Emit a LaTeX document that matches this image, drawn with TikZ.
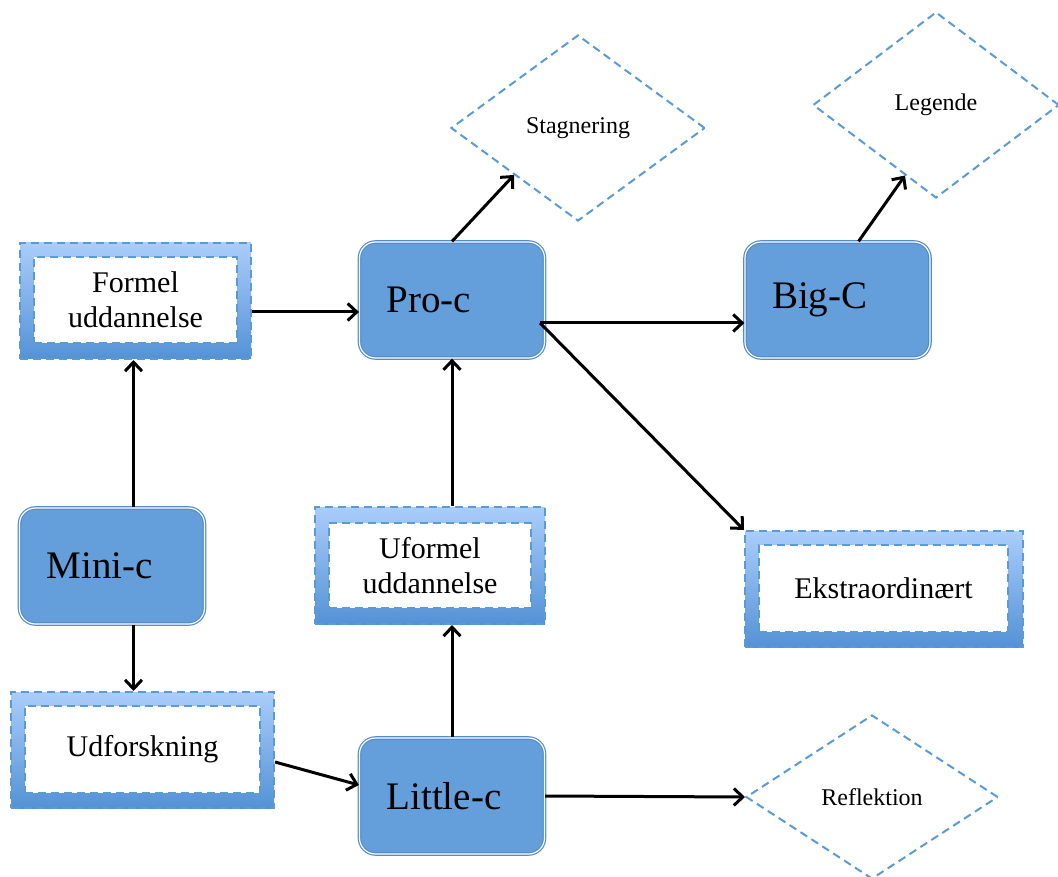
\documentclass[tikz,border=0pt]{standalone}
\usepackage{fontspec}
\setmainfont{Liberation Serif}
\usetikzlibrary{shapes.geometric,arrows.meta,calc}
\definecolor{dashblue}{RGB}{91,155,213}
\definecolor{boxblue}{RGB}{101,159,219}
\definecolor{gradtop}{RGB}{170,205,250}
\definecolor{gradbot}{RGB}{84,146,214}
\definecolor{edgeblue}{RGB}{84,141,205}
\newcommand{\fbig}{\fontsize{39}{42}\selectfont}
\newcommand{\fmed}{\fontsize{30}{35}\selectfont}
\newcommand{\fsml}{\fontsize{24}{28}\selectfont}
\begin{document}
\begin{tikzpicture}[x=1pt,y=-1pt,
 dashline/.style={draw=dashblue, line width=2pt, dash pattern=on 8pt off 5pt},
 outerbox/.style={dashline, top color=gradtop, bottom color=gradbot, inner sep=0pt},
 innerbox/.style={dashline, fill=white, inner sep=0pt, align=center, font=\fmed},
 bigbox/.style={fill=boxblue, draw=edgeblue, double=white, double distance=1.2pt, line width=1.2pt, rounded corners=16pt, minimum height=116pt, text width=131pt, inner xsep=27pt, inner ysep=0pt, align=left, font=\fbig},
 dia/.style={diamond, dashline, inner sep=0pt, font=\fsml},
 arr/.style={-{Straight Barb[length=9pt,width=17pt]}, line width=3pt}
]
\useasboundingbox (0,0) rectangle (1058,877);

% gradient boxes
\node[outerbox, minimum width=231pt, minimum height=116pt] (formel) at (135.5,301) {};
\node[innerbox, minimum width=203pt, minimum height=86pt] (formelt) at (135.5,300) {Formel\\uddannelse};

\node[outerbox, minimum width=230pt, minimum height=117pt] (uformel) at (430,565.5) {};
\node[innerbox, minimum width=202pt, minimum height=85pt] (uformelt) at (430,565.5) {Uformel\\uddannelse};

\node[outerbox, minimum width=278pt, minimum height=116pt] (ekstra) at (884,589) {};
\node[innerbox, minimum width=249pt, minimum height=87pt] (ekstrat) at (883.5,588.5) {Ekstraordinært};

\node[outerbox, minimum width=263pt, minimum height=116pt] (udf) at (142.5,750) {};
\node[innerbox, minimum width=235pt, minimum height=87pt] (udft) at (142.5,749.5) {Udforskning};

% rounded boxes
\node[bigbox] (proc) at (452,300) {Pro-c};
\node[bigbox] (bigc) at (837.5,300) {Big-C};
\node[bigbox] (minic) at (112,566) {Mini-c};
\node[bigbox] (littlec) at (452,796) {Little-c};

% diamonds
\node[dia, minimum width=254pt, minimum height=186pt] (stag) at (578,128) {Stagnering};
\node[dia, minimum width=246pt, minimum height=186pt] (leg) at (936,105) {Legende};
\node[dia, minimum width=252pt, minimum height=164pt] (refl) at (872,797) {Reflektion};

% arrows
\draw[arr] ([xshift=-2pt]formel.south |- minic.north) -- ([xshift=-2pt]formel.south);
\draw[arr] ([xshift=-2pt]formel.south |- minic.south) -- ([xshift=-2pt]formel.south |- udf.north);
\draw[arr] ([yshift=-11pt]formel.east) -- ([yshift=-11pt]formel.east -| proc.west);
\draw[arr] ([yshift=-12pt]udf.east) -- ([yshift=11pt]littlec.west);
\draw[arr] (littlec.north) -- (littlec.north |- uformel.south);
\draw[arr] (proc.south |- uformel.north) -- (proc.south);
\draw[arr] (proc.north) -- (stag.south west);
\draw[arr] ([xshift=-5pt,yshift=-23pt]proc.east) -- ([yshift=-23pt]proc.east -| bigc.west);
\draw[arr] ([xshift=-5pt,yshift=-23pt]proc.east) -- (ekstra.north west);
\draw[arr] ([xshift=21pt]bigc.north) -- ($(leg.west)!0.75!(leg.south)$);
\draw[arr] (littlec.east) -- (refl.west);
\end{tikzpicture}
\end{document}
